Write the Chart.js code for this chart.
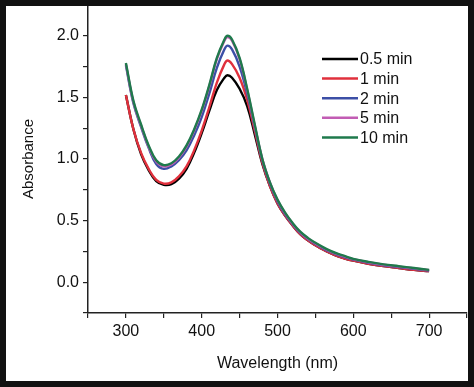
<!DOCTYPE html>
<html>
<head>
<meta charset="utf-8">
<script src="https://cdn.jsdelivr.net/npm/chart.js@4.4.1/dist/chart.umd.min.js"></script>
<style>
  html, body { margin: 0; padding: 0; background: #fff; }
  #wrap { position: relative; width: 474px; height: 387px; }
  #frame { position: absolute; left: 0; top: 0; width: 474px; height: 387px;
           box-sizing: border-box; border: 6px solid #111; pointer-events: none; }
</style>
</head>
<body>
<div id="wrap">
  <canvas id="myChart" width="474" height="387"></canvas>
  <div id="frame"></div>
</div>
<script>
// Longitudes de onda (nm)
const wavelengths = [300, 310, 320, 330, 340, 350, 360, 370, 380, 390, 400, 410, 420, 430, 434,
  440, 450, 460, 470, 480, 490, 500, 510, 520, 530, 540, 550, 560, 570, 580, 590, 600,
  620, 640, 660, 680, 700];

// Absorbancia para cada tiempo
const abs05 = [1.52, 1.24, 1.04, 0.91, 0.82, 0.79, 0.795, 0.84, 0.92, 1.05, 1.21, 1.39, 1.56, 1.66, 1.68,
  1.66, 1.57, 1.43, 1.20, 0.96, 0.78, 0.64, 0.54, 0.46, 0.39, 0.34, 0.30, 0.265, 0.235, 0.21, 0.19, 0.175,
  0.15, 0.13, 0.115, 0.10, 0.09];
const abs1 = [1.52, 1.24, 1.05, 0.92, 0.83, 0.80, 0.81, 0.86, 0.94, 1.07, 1.23, 1.42, 1.62, 1.77, 1.80,
  1.77, 1.66, 1.48, 1.23, 0.97, 0.78, 0.64, 0.54, 0.46, 0.39, 0.34, 0.30, 0.265, 0.235, 0.21, 0.19, 0.175,
  0.15, 0.13, 0.115, 0.10, 0.09];
const abs2 = [1.76, 1.45, 1.26, 1.09, 0.96, 0.92, 0.94, 0.99, 1.07, 1.19, 1.34, 1.53, 1.74, 1.89, 1.92,
  1.89, 1.75, 1.53, 1.26, 0.99, 0.80, 0.655, 0.55, 0.47, 0.40, 0.35, 0.31, 0.275, 0.245, 0.22, 0.20, 0.183,
  0.158, 0.138, 0.122, 0.108, 0.095];
const abs5 = [1.77, 1.46, 1.27, 1.10, 0.98, 0.94, 0.955, 1.01, 1.10, 1.23, 1.39, 1.59, 1.81, 1.96, 1.99,
  1.96, 1.81, 1.56, 1.27, 1.00, 0.81, 0.665, 0.56, 0.475, 0.405, 0.355, 0.315, 0.28, 0.25, 0.225, 0.205, 0.187,
  0.162, 0.142, 0.126, 0.112, 0.098];
const abs10 = [1.78, 1.47, 1.28, 1.11, 0.99, 0.95, 0.965, 1.02, 1.11, 1.24, 1.40, 1.60, 1.82, 1.97, 2.00,
  1.97, 1.82, 1.57, 1.28, 1.00, 0.81, 0.67, 0.565, 0.48, 0.41, 0.36, 0.32, 0.285, 0.255, 0.23, 0.21, 0.19,
  0.165, 0.145, 0.13, 0.115, 0.10];

const seriesLabels = ['0.5 min', '1 min', '2 min', '5 min', '10 min'];
const seriesColors = ['#000000', '#e0303c', '#3c4fa6', '#c25cb4', '#1f7a4c'];
const seriesValues = [abs05, abs1, abs2, abs5, abs10];

// Etiquetas de los ejes
const xTickLabels = [300, 400, 500, 600, 700];
const yTickLabels = [0.0, 0.5, 1.0, 1.5, 2.0];

const FONT = 'Liberation Sans, Arial, Helvetica, sans-serif';

// Leyenda dibujada dentro del área del gráfico
const insideLegend = {
  id: 'insideLegend',
  afterDatasetsDraw(chart) {
    const ctx = chart.ctx;
    const x0 = 322, x1 = 358, y0 = 59, dy = 19.6;
    ctx.save();
    ctx.font = '16px ' + FONT;
    ctx.textBaseline = 'middle';
    ctx.textAlign = 'left';
    chart.data.datasets.forEach((ds, i) => {
      const y = y0 + i * dy;
      ctx.strokeStyle = ds.borderColor;
      ctx.lineWidth = 2.5;
      ctx.beginPath();
      ctx.moveTo(x0, y);
      ctx.lineTo(x1, y);
      ctx.stroke();
      ctx.fillStyle = '#111';
      ctx.fillText(ds.label, x1 + 2, y + 1);
    });
    ctx.restore();
  }
};

const datasets = seriesValues.map((vals, i) => ({
  label: seriesLabels[i],
  data: wavelengths.map((w, j) => ({ x: w, y: vals[j] })),
  borderColor: seriesColors[i],
  borderWidth: 2.4,
  pointRadius: 0,
  tension: 0.4,
  fill: false,
  order: 5 - i
}));

const ctx = document.getElementById('myChart').getContext('2d');
const chart = new Chart(ctx, {
  type: 'line',
  data: { datasets: datasets },
  options: {
    responsive: false,
    animation: false,
    layout: { padding: { left: 0, top: 5, right: 7, bottom: 0 } },
    plugins: {
      legend: { display: false },
      tooltip: { enabled: false }
    },
    scales: {
      x: {
        type: 'linear',
        min: 250,
        max: 750,
        afterFit: (scale) => {
          scale.height = 387 - 313;
          scale.paddingLeft = 0;
          scale.paddingRight = 0;
        },
        ticks: {
          stepSize: 50,
          autoSkip: false,
          maxRotation: 0,
          padding: 4,
          color: '#111',
          font: { family: FONT, size: 16 },
          callback: (v) => xTickLabels.includes(v) ? String(v) : ''
        },
        grid: { drawOnChartArea: false, drawTicks: true, tickLength: 5, color: '#222', lineWidth: 1.2 },
        border: { display: true, color: '#222', width: 1.5 },
        title: {
          display: true,
          text: 'Wavelength (nm)',
          color: '#111',
          font: { family: FONT, size: 16 },
          padding: { top: 8, bottom: 14 }
        }
      },
      y: {
        min: -0.25,
        max: 2.25,
        afterFit: (scale) => {
          scale.width = 88;
          scale.paddingTop = 0;
          scale.paddingBottom = 0;
        },
        ticks: {
          stepSize: 0.25,
          autoSkip: false,
          padding: 4,
          color: '#111',
          font: { family: FONT, size: 16 },
          callback: (v) => {
            const hit = yTickLabels.find(t => Math.abs(t - v) < 1e-6);
            return hit !== undefined ? hit.toFixed(1) : '';
          }
        },
        grid: { drawOnChartArea: false, drawTicks: true, tickLength: 5, color: '#222', lineWidth: 1.2 },
        border: { display: true, color: '#222', width: 1.5 },
        title: {
          display: true,
          text: 'Absorbance',
          color: '#111',
          font: { family: FONT, size: 15 },
          padding: { top: 20, bottom: 4 }
        }
      }
    }
  },
  plugins: [insideLegend]
});
</script>
</body>
</html>
